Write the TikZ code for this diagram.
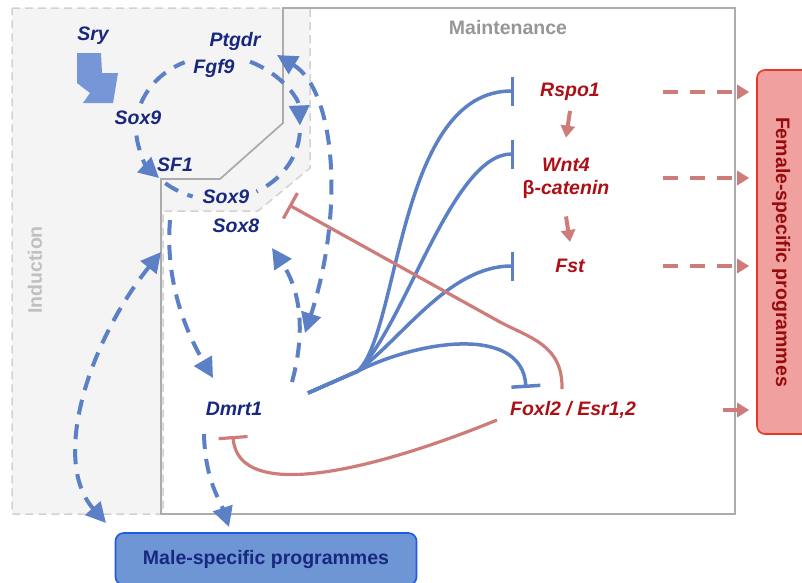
\documentclass[tikz,border=0pt]{standalone}
\usepackage{fontspec}
\setmainfont{Liberation Sans}
\usepackage{xcolor}
\usepackage{tikz}
\usetikzlibrary{arrows.meta}

\definecolor{navy}{RGB}{24,40,128}
\definecolor{crimson}{RGB}{172,16,22}
\definecolor{lineblue}{RGB}{92,128,198}
\definecolor{linered}{RGB}{206,124,122}
\definecolor{boxgrey}{RGB}{172,172,172}
\definecolor{dashgrey}{RGB}{210,210,210}
\definecolor{fillgrey}{RGB}{244,244,244}
\definecolor{labelgrey}{RGB}{150,150,150}
\definecolor{inductgrey}{RGB}{192,192,192}
\definecolor{malefill}{RGB}{110,150,212}
\definecolor{maleedge}{RGB}{34,88,228}
\definecolor{femfill}{RGB}{240,160,158}
\definecolor{femedge}{RGB}{232,56,36}
\definecolor{femtext}{RGB}{150,12,12}
\definecolor{sryblue}{RGB}{118,150,216}

\newcommand{\genefont}{\fontsize{19.5}{23}\selectfont\bfseries\itshape}
\newcommand{\regionfont}{\fontsize{19.5}{23}\selectfont\bfseries}

\tikzset{
    gene/.style={font=\genefont, inner sep=0pt, align=center},
    male gene/.style={gene, text=navy},
    female gene/.style={gene, text=crimson},
    region/.style={font=\regionfont, inner sep=0pt},
    induct/.style={fill=fillgrey, draw=dashgrey, line width=1.5pt, dash pattern=on 8pt off 5pt},
    maintain/.style={draw=boxgrey, line width=1.8pt},
    malebox/.style={draw=maleedge, fill=malefill, rounded corners=8pt, line width=1.6pt,
        minimum width=301pt, minimum height=52pt, font=\regionfont, text=navy},
    femalebox/.style={draw=femedge, fill=femfill, rounded corners=8pt, line width=1.6pt,
        minimum width=62pt, minimum height=364pt},
    feedback/.style={draw=lineblue, line width=4pt, dash pattern=on 15pt off 10pt,
        >={Triangle[length=20pt,width=20pt]}},
    block blue/.style={draw=lineblue, line width=3.5pt, -{Bar[width=29pt]}},
    block red/.style={draw=linered, line width=3.2pt, -{Bar[width=29pt]}},
    cascade/.style={draw=linered, line width=4pt, -{Triangle[length=12pt,width=14pt]}},
    to female/.style={cascade, dash pattern=on 15pt off 12pt, shorten >=7pt}
}

\begin{document}
\begin{tikzpicture}[x=1pt, y=-1pt]
    \useasboundingbox (0,0) rectangle (802,582);
    \clip (0,0) rectangle (802,582);

    % the two phases
    \draw[induct] (12,8) -- (310,8) -- (310,168) -- (258,211) -- (163,211)
        -- (163,514) -- (12,514) -- cycle;
    \draw[maintain] (283,8) -- (735,8) -- (735,514) -- (161,514) -- (161,179)
        -- (220,179) -- (283,123) -- cycle;
    \node[region, text=inductgrey, rotate=90] (induction) at (35,270) {Induction};
    \node[region, text=labelgrey] (maintenance) at (508,28) {Maintenance};

    % programmes
    \node[malebox] (male) at (266,559) {Male-specific programmes};
    \node[femalebox] (female) at (788,252) {};
    \node[region, text=femtext, rotate=-90] (femaletext) at (781,252) {Female-specific programmes};

    % Sry kick
    \fill[sryblue] (77,53) -- (101,53) -- (102,73) -- (118,73) -- (113,103)
        -- (83,103) -- (90,93) -- (77,83) -- cycle;

    % genes
    \node[male gene] (sry) at (93,36) {Sry};
    \node[male gene] (ptgdr) at (235,41) {Ptgdr};
    \node[male gene] (fgf) at (214,68) {Fgf9};
    \node[male gene] (soxnine) at (138,118) {Sox9};
    \node[male gene] (sfone) at (175,165) {SF1};
    \node[male gene] (soxninelow) at (226,197) {Sox9};
    \node[male gene] (soxeight) at (236,226) {Sox8};
    \node[male gene] (dmrt) at (234,409) {Dmrt1};

    \node[female gene] (rspo) at (570,92) {Rspo1};
    \node[female gene] (wnt) at (566,178) {Wnt4\\{\upshape β}-catenin};
    \node[female gene] (fst) at (570,266) {Fst};
    \node[female gene] (foxl) at (573,410) {Foxl2 / Esr1,2};

    % ends of the connectors
    \coordinate (ell) at (218,128);
    \coordinate (ptgdrin) at (277,55);
    \coordinate (dmrtin) at (305,333);
    \coordinate (dmrtup) at (292,382);
    \coordinate (soxeightin) at (272,248);
    \coordinate (soxout) at (170,220);
    \coordinate (dmrtleft) at (213,378);
    \coordinate (sfoneback) at (161,252);
    \coordinate (malein) at (106,523);
    \coordinate (dmrtdown) at (204,434);
    \coordinate (maletop) at (229,527);
    \coordinate (dmrtright) at (308,393);
    \coordinate (fan) at (358,371);
    \coordinate (rspobar) at (514,91);
    \coordinate (wntbar) at (514,154);
    \coordinate (fstbar) at (514,266);
    \coordinate (foxlbar) at (526,388);
    \coordinate (foxltop) at (562,389);
    \coordinate (soxeightbar) at (289,205);
    \coordinate (foxlleft) at (497,420);
    \coordinate (dmrtbar) at (233,436);
    \coordinate (fdash) at (663,0);
    \coordinate (fsolid) at (723,0);

    % Sox9 loop
    \draw[feedback] (ell) ++(200:82 and 72) arc[start angle=200, end angle=246, x radius=82, y radius=72];
    \draw[feedback, ->] (ell) ++(293:82 and 72) arc[start angle=293, end angle=358, x radius=82, y radius=72];
    \draw[feedback] (ell) ++(4:82 and 72) arc[start angle=4, end angle=62, x radius=82, y radius=72];
    \draw[feedback, ->] (ell) ++(174:82 and 72) arc[start angle=174, end angle=136, x radius=82, y radius=72];
    \draw[feedback] (ell) ++(130:82 and 72) arc[start angle=130, end angle=108, x radius=82, y radius=72];

    % male side
    \draw[feedback, <->] (ptgdrin) .. controls (335,90) and (345,210) .. (dmrtin);
    \draw[feedback, ->] (dmrtup) .. controls (306,330) and (300,290) .. (soxeightin);
    \draw[feedback, ->] (soxout) .. controls (165,280) and (185,330) .. (dmrtleft);
    \draw[feedback, <->] (sfoneback) .. controls (90,340) and (50,460) .. (malein);
    \draw[feedback, ->] (dmrtdown) .. controls (205,480) and (220,500) .. (maletop);

    % Dmrt1 represses the female genes
    \draw[block blue] (dmrtright) -- (fan) .. controls (400,330) and (398,91) .. (rspobar);
    \draw[block blue] (dmrtright) -- (fan) .. controls (405,325) and (452,154) .. (wntbar);
    \draw[block blue] (dmrtright) -- (fan) .. controls (405,335) and (450,266) .. (fstbar);
    \draw[block blue] (dmrtright) -- (fan) .. controls (420,340) and (522,325) .. (foxlbar);

    % Foxl2 represses the male genes
    \draw[block red] (foxltop) .. controls (563,345) and (530,338) .. (500,322) -- (soxeightbar);
    \draw[block red] (foxlleft) .. controls (380,468) and (238,505) .. (dmrtbar);

    % female cascade
    \draw[cascade] ([yshift=-10pt]rspo.south) -- ([yshift=20pt]wnt.north);
    \draw[cascade] ([yshift=-18pt]wnt.south) -- ([yshift=17pt]fst.north);
    \draw[to female] (rspo -| fdash) -- (rspo -| female.west);
    \draw[to female] (wnt -| fdash) -- (wnt -| female.west);
    \draw[to female] (fst -| fdash) -- (fst -| female.west);
    \draw[cascade, shorten >=7pt] (foxl -| fsolid) -- (foxl -| female.west);
\end{tikzpicture}
\end{document}
